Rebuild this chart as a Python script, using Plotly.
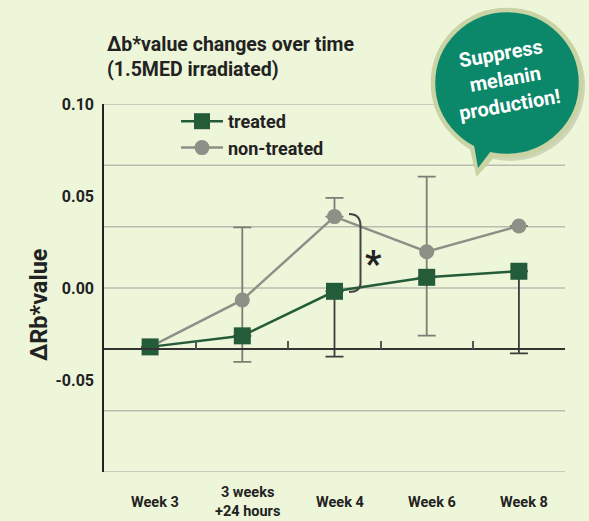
import plotly.graph_objects as go

# ---------------------------------------------------------------------------
# Dados
# ---------------------------------------------------------------------------
WEEKS = ["Week 3", "3 weeks<br>+24 hours", "Week 4", "Week 6", "Week 8"]

TREATED = [-0.032, -0.026, -0.0018, 0.0058, 0.0091]
TREATED_ERR_PLUS = [0, 0, 0, 0, 0]
TREATED_ERR_MINUS = [0, 0, 0.0355, 0, 0.0446]

NON_TREATED = [-0.032, -0.0065, 0.0388, 0.0197, 0.0337]
NON_TREATED_ERR_PLUS = [0, 0.0395, 0.0102, 0.0408, 0]
NON_TREATED_ERR_MINUS = [0, 0.0336, 0, 0.0456, 0]

Y_TICKS = [-0.05, 0.0, 0.05, 0.10]
Y_GRID = [-0.1, -0.1 / 1.5, -0.1 / 3, 0.0, 0.1 / 3, 0.1 / 1.5, 0.1]
X_LINE_Y = -0.1 / 3  # linha base (eixo x) no nível da semana 3

# ---------------------------------------------------------------------------
# Estilo
# ---------------------------------------------------------------------------
BG = "#eef6d9"
GREEN = "#245c3a"
GREY = "#8d9087"
GRID = "#b9bcb1"
DARK = "#222222"
BUBBLE = "#0b876a"
RING = "#c9d3a3"
FONT = "Roboto, sans-serif"

W, H = 589, 521
L, R, T, B = 104, 24, 104, 49
PW, PH = W - L - R, H - T - B


def px(x):
    return (x - L) / PW


def py(y):
    return (H - B - y) / PH


fig = go.Figure()

fig.add_trace(go.Scatter(
    x=WEEKS, y=NON_TREATED, name="non-treated", legendrank=2,
    mode="lines+markers",
    line=dict(color=GREY, width=2.5),
    marker=dict(symbol="circle", size=15, color=GREY),
    error_y=dict(type="data", symmetric=False, array=NON_TREATED_ERR_PLUS,
                 arrayminus=NON_TREATED_ERR_MINUS, color="#7c7e74",
                 thickness=1.8, width=9),
))
fig.add_trace(go.Scatter(
    x=WEEKS, y=TREATED, name="treated", legendrank=1,
    mode="lines+markers",
    line=dict(color=GREEN, width=2.5),
    marker=dict(symbol="square", size=17, color=GREEN),
    error_y=dict(type="data", symmetric=False, array=TREATED_ERR_PLUS,
                 arrayminus=TREATED_ERR_MINUS, color="#3c3c3c",
                 thickness=1.8, width=9),
))
# traço invisível para o eixo x secundário (linha base com ticks)
fig.add_trace(go.Scatter(x=WEEKS, y=[None] * len(WEEKS), xaxis="x2",
                         showlegend=False, hoverinfo="skip"))

for g in Y_GRID:
    fig.add_hline(y=g, line=dict(color=GRID, width=1.5), layer="below")

# rótulos do eixo x como anotações (centradas verticalmente)
for w in WEEKS:
    fig.add_annotation(x=w, y=py(502), xref="x", yref="paper", text=f"<b>{w}</b>",
                       showarrow=False, xshift=5, xanchor="center", yanchor="middle",
                       font=dict(size=14.5, color=DARK))

# título
fig.add_annotation(x=px(105), y=py(31), xref="paper", yref="paper",
                   xanchor="left", yanchor="top", align="left", showarrow=False,
                   text="<b>Δb*value changes over time<br>(1.5MED irradiated)</b>",
                   font=dict(size=19.5, color=DARK))
# título do eixo y
fig.add_annotation(x=px(39), y=py(305), xref="paper", yref="paper",
                   xanchor="center", yanchor="middle",
                   textangle=-90, showarrow=False, text="<b>ΔRb*value</b>",
                   font=dict(size=23.5, color=DARK))

# colchete de significância + asterisco
fig.add_shape(type="path", xref="x", yref="y", xsizemode="pixel", ysizemode="pixel",
              xanchor=2, yanchor=0,
              path="M 14.5,74 Q 26,74 26,62 L 26,5 Q 26,-4 14.5,-4",
              line=dict(color="#444444", width=2))
fig.add_annotation(x=2, y=0.017, xref="x", yref="y", xshift=39, yshift=-7,
                   text="<b>*</b>", showarrow=False, font=dict(size=36, color=DARK))

# balão "Suppress melanin production!"
cx, cy = px(507), py(83)
bubble = dict(xref="paper", yref="paper", xsizemode="pixel", ysizemode="pixel",
              xanchor=cx, yanchor=cy)
fig.add_shape(type="circle", x0=-72, x1=78, y0=-78, y1=72, **bubble,
              fillcolor="rgba(60,70,40,0.18)", line_width=0)
fig.add_shape(type="path", path="M -37,-62 L -30,-92 L -12,-72 Z", **bubble,
              fillcolor=RING, line=dict(color=RING, width=2))
fig.add_shape(type="circle", x0=-74, x1=74, y0=-73, y1=73, **bubble,
              fillcolor=BUBBLE, line=dict(color=RING, width=4.5))
fig.add_shape(type="path", path="M -33,-62 L -29,-85 L -16,-68 Z", **bubble,
              fillcolor=BUBBLE, line_width=0)
fig.add_annotation(x=px(505), y=py(79), xref="paper", yref="paper", showarrow=False,
                   xanchor="center", yanchor="middle",
                   textangle=-10, text="<b>Suppress<br>melanin<br>production!</b>",
                   font=dict(size=20, color="white"))

fig.update_layout(
    width=W, height=H,
    paper_bgcolor=BG, plot_bgcolor=BG,
    font=dict(family=FONT, color=DARK),
    margin=dict(l=L, r=R, t=T, b=B),
    showlegend=True,
    legend=dict(x=px(176), y=py(103), xanchor="left", yanchor="top",
                itemwidth=42, bgcolor="rgba(0,0,0,0)",
                font=dict(size=18, weight=700, color=DARK)),
    xaxis=dict(type="category", categoryarray=WEEKS, range=[-0.5, 4.5],
               showticklabels=False, showgrid=False, showline=False, zeroline=False),
    xaxis2=dict(type="category", categoryarray=WEEKS, range=[-0.5, 4.5],
                overlaying="x", anchor="free", position=(X_LINE_Y + 0.1) / 0.2,
                showline=True, linecolor="#333333", linewidth=1.5,
                ticks="inside", tickson="boundaries", ticklen=8, tickwidth=1.5,
                tickcolor="#555555", showticklabels=False, showgrid=False),
    yaxis=dict(range=[-0.1, 0.1], tickvals=Y_TICKS,
               ticktext=[f"{v:.2f}" for v in Y_TICKS],
               showgrid=False, zeroline=False, showline=True,
               linecolor=DARK, linewidth=1.5, ticks="", ticklabelstandoff=5,
               tickfont=dict(size=16, weight=700, color=DARK)),
)

# a página usa margem zero para que o fundo cubra toda a janela
fig.write_html("out.html", config={"displayModeBar": False},
               post_script="document.body.style.margin='0px';")
